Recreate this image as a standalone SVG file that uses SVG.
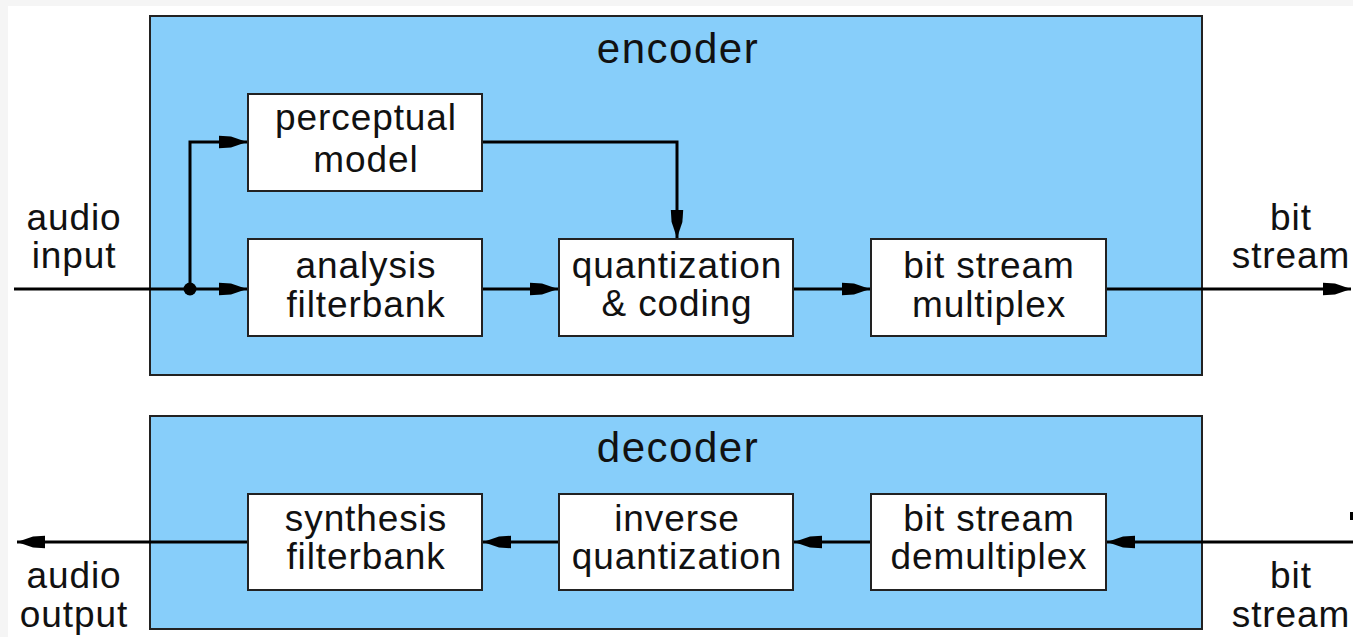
<svg xmlns="http://www.w3.org/2000/svg" width="1353" height="637" viewBox="0 0 1353 637">
  <style>
    .frame { fill: #87cefa; stroke: #222; stroke-width: 2; }
    .box { fill: #ffffff; stroke: #222; stroke-width: 2; }
    .lbl { font-family: "Liberation Sans", Arial, sans-serif; font-size: 37px; letter-spacing: 0.9px; fill: #111; text-anchor: middle; }
    .title { font-family: "Liberation Sans", Arial, sans-serif; font-size: 42px; letter-spacing: 1.5px; fill: #111; text-anchor: middle; }
    .wire { fill: none; stroke: #000; stroke-width: 3; }
    .arrow { marker-end: url(#head); }
  </style>
  <defs>
    <marker id="head" markerUnits="userSpaceOnUse" markerWidth="30" markerHeight="14" refX="28" refY="7" orient="auto" overflow="visible">
      <polygon points="0,0.8 12,1.6 28,7 12,12.4 0,13.2" fill="#000"/>
    </marker>
  </defs>

  <!-- page background -->
  <rect x="0" y="0" width="1353" height="637" fill="#f5f5f5"/>
  <rect x="8" y="6" width="1345" height="631" fill="#ffffff"/>

  <!-- encoder frame -->
  <g id="encoder">
    <rect class="frame" x="150" y="16" width="1052" height="359"/>
    <text class="title" x="678" y="63">encoder</text>
  </g>

  <!-- decoder frame -->
  <g id="decoder">
    <rect class="frame" x="150" y="416" width="1052" height="213"/>
    <text class="title" x="678" y="462">decoder</text>
  </g>

  <!-- connectors -->
  <g id="connectors">
    <polyline class="wire" points="14,289 190,289"/>
    <polyline class="wire arrow" points="190,289 247,289"/>
    <polyline class="wire arrow" points="190,289 190,142 247,142"/>
    <circle cx="190" cy="289" r="6.5" fill="#000"/>
    <polyline class="wire arrow" points="482,142 677,142 677,238"/>
    <polyline class="wire arrow" points="482,289 558,289"/>
    <polyline class="wire arrow" points="793,289 870,289"/>
    <polyline class="wire arrow" points="1106,289 1351,289"/>

    <polyline class="wire arrow" points="1353,542 1107,542"/>
    <polyline class="wire arrow" points="871,542 794,542"/>
    <polyline class="wire arrow" points="559,542 483,542"/>
    <polyline class="wire arrow" points="248,542 17,542"/>
    <rect x="1350" y="512" width="3" height="8" fill="#000"/>
  </g>

  <!-- encoder blocks -->
  <g id="perceptual-model">
    <rect class="box" x="248" y="94" width="234" height="97"/>
    <text class="lbl" x="366" y="130">perceptual</text>
    <text class="lbl" x="366" y="172">model</text>
  </g>
  <g id="analysis-filterbank">
    <rect class="box" x="248" y="239" width="234" height="97"/>
    <text class="lbl" x="366" y="278">analysis</text>
    <text class="lbl" x="366" y="317">filterbank</text>
  </g>
  <g id="quantization-coding">
    <rect class="box" x="559" y="239" width="234" height="97"/>
    <text class="lbl" x="677" y="278">quantization</text>
    <text class="lbl" x="677" y="316">&amp; coding</text>
  </g>
  <g id="bitstream-multiplex">
    <rect class="box" x="871" y="239" width="235" height="97"/>
    <text class="lbl" x="989" y="278">bit stream</text>
    <text class="lbl" x="989" y="317">multiplex</text>
  </g>

  <!-- decoder blocks -->
  <g id="synthesis-filterbank">
    <rect class="box" x="248" y="494" width="234" height="96"/>
    <text class="lbl" x="366" y="531">synthesis</text>
    <text class="lbl" x="366" y="569">filterbank</text>
  </g>
  <g id="inverse-quantization">
    <rect class="box" x="559" y="494" width="234" height="96"/>
    <text class="lbl" x="677" y="531">inverse</text>
    <text class="lbl" x="677" y="569">quantization</text>
  </g>
  <g id="bitstream-demultiplex">
    <rect class="box" x="871" y="494" width="235" height="96"/>
    <text class="lbl" x="989" y="531">bit stream</text>
    <text class="lbl" x="989" y="569">demultiplex</text>
  </g>

  <!-- external terminals -->
  <g id="audio-input">
    <text class="lbl" x="74" y="230">audio</text>
    <text class="lbl" x="74" y="268">input</text>
  </g>
  <g id="bitstream-out">
    <text class="lbl" x="1291" y="230">bit</text>
    <text class="lbl" x="1291" y="268">stream</text>
  </g>
  <g id="audio-output">
    <text class="lbl" x="74" y="588">audio</text>
    <text class="lbl" x="74" y="627">output</text>
  </g>
  <g id="bitstream-in">
    <text class="lbl" x="1291" y="588">bit</text>
    <text class="lbl" x="1291" y="627">stream</text>
  </g>
</svg>
